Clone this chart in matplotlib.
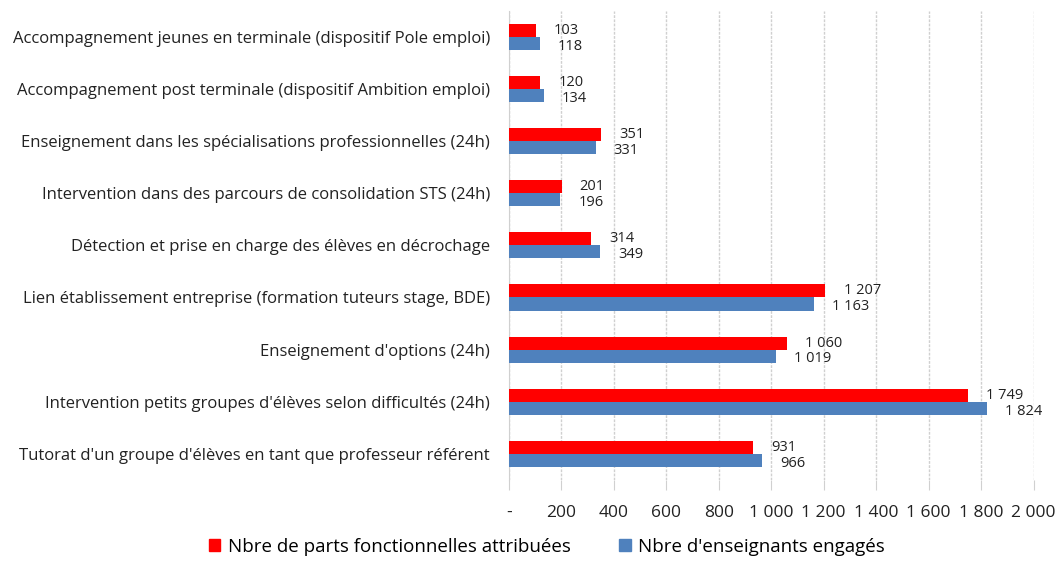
import numpy as np
import matplotlib.pyplot as plt
from matplotlib.patches import Patch

plt.rcParams['font.family'] = ['Open Sans', 'DejaVu Sans']

categories = [
    "Accompagnement jeunes en terminale (dispositif Pole emploi)",
    "Accompagnement post terminale (dispositif Ambition emploi)",
    "Enseignement dans les spécialisations professionnelles (24h)",
    "Intervention dans des parcours de consolidation STS (24h)",
    "Détection et prise en charge des élèves en décrochage",
    "Lien établissement entreprise (formation tuteurs stage, BDE)",
    "Enseignement d'options (24h)",
    "Intervention petits groupes d'élèves selon difficultés (24h)",
    "Tutorat d'un groupe d'élèves en tant que professeur référent",
]
parts = [103, 120, 351, 201, 314, 1207, 1060, 1749, 931]
enseignants = [118, 134, 331, 196, 349, 1163, 1019, 1824, 966]
xticks = list(range(0, 2001, 200))

red = '#FF0000'
blue = '#4F81BD'


def fmt(v):
    if v == 0:
        return '-'
    return f"{v:,}".replace(',', ' ')


fig = plt.figure(figsize=(10.6, 5.66), dpi=100)
ax = fig.add_axes([0.480, 0.152, 0.495, 0.829])

y = np.arange(len(categories))
h = 0.25
ax.barh(y - h / 2, parts, height=h, color=red, zorder=3)
ax.barh(y + h / 2, enseignants, height=h, color=blue, zorder=3)

for yi, p, e in zip(y, parts, enseignants):
    ax.annotate(fmt(p), (p, yi - h / 2), xytext=(13, 0), textcoords='offset points',
                va='center', ha='left', fontsize=10.5, color='#222222')
    ax.annotate(fmt(e), (e, yi + h / 2), xytext=(13, -2), textcoords='offset points',
                va='center', ha='left', fontsize=10.5, color='#222222')

ax.set_ylim(len(categories) - 0.5, -0.5)
ax.set_xlim(0, 2000)
ax.set_yticks(y)
ax.set_yticklabels(categories, fontsize=12, color='#222222')
ax.set_xticks(xticks)
ax.set_xticklabels([fmt(v) for v in xticks], fontsize=12.5, color='#222222')
ax.tick_params(axis='y', length=0, pad=13.5)
ax.tick_params(axis='x', length=7, color='#d0d0d0', pad=11)

ax.grid(axis='x', color='#d0d0d0', linestyle=(0, (2, 1)), linewidth=1, zorder=0)
for s in ['top', 'right', 'bottom']:
    ax.spines[s].set_visible(False)
ax.spines['left'].set_color('#d0d0d0')

handles = [Patch(color=red, label='Nbre de parts fonctionnelles attribuées'),
           Patch(color=blue, label="Nbre d'enseignants engagés")]
fig.legend(handles=handles, loc='lower center', bbox_to_anchor=(0.516, -0.012), ncol=2,
           frameon=False, fontsize=13.5, handlelength=0.6, handleheight=0.6,
           handletextpad=0.4, columnspacing=2.6)

fig.savefig('out.png', dpi=100)
